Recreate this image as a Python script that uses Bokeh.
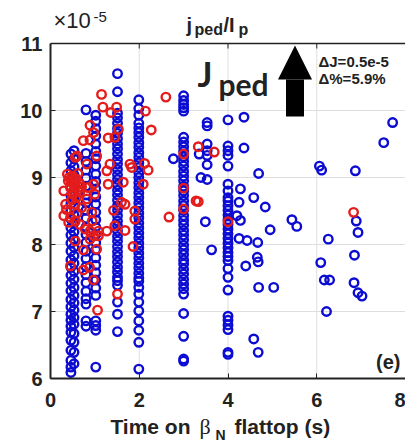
from bokeh.plotting import figure
from bokeh.layouts import column
from bokeh.models import Label, Arrow, NormalHead, FixedTicker, Span, Range1d
from bokeh.embed import file_html
from bokeh.resources import INLINE

# j_ped / I_p in units of 1e-5, against time on the beta_N flattop (s)
# Blue shots, grouped in columns of (nearly) equal flattop time
blue_t046 = 0.46
blue_j046 = [9.35, 9.22, 9.1, 8.97, 8.86, 8.73, 8.61, 8.5, 8.38, 8.25, 8.14, 8.02, 7.9, 7.77,
             7.66, 7.54, 7.42, 7.31, 7.18, 7.07, 6.96, 6.87, 6.78, 6.69, 6.57, 6.42, 6.27, 6.17, 6.09]
blue_t053 = 0.53
blue_j053 = [9.4, 9.28, 9.16, 9.04, 8.92, 8.8, 8.67, 8.56, 8.44, 8.32, 8.19, 8.08, 7.96, 7.83,
             7.72, 7.6, 7.48, 7.36, 7.24, 7.13, 7.02, 6.91, 6.81, 6.67, 6.54, 6.39, 6.22]
blue_t080 = 0.80
blue_j080 = [10.01, 9.36, 9.24, 9.11, 8.99, 8.87, 8.74, 8.62, 8.51, 8.39, 8.26, 8.15, 8.03, 7.9,
             7.79, 7.67, 7.55, 7.43, 7.3, 7.19, 7.11, 6.86, 6.78]
blue_t102 = 1.02
blue_j102 = [9.93, 9.84, 9.73, 9.62, 9.5, 9.39, 9.28, 9.17, 9.05, 8.94, 8.83, 8.71, 8.6, 8.48,
             8.37, 8.26, 8.15, 8.03, 7.92, 7.8, 7.69, 7.58, 7.47, 7.35, 7.24, 6.86, 6.79, 6.72, 6.17]
blue_t151 = 1.51
blue_j151 = [10.55, 10.28, 9.96, 9.89, 9.81, 9.73, 9.66, 9.58, 9.5, 9.43, 9.35, 9.27, 9.2, 9.12,
             9.04, 8.97, 8.89, 8.81, 8.74, 8.66, 8.58, 8.51, 8.43, 8.35, 8.28, 8.2, 8.12, 8.05,
             7.97, 7.89, 7.82, 7.74, 7.66, 7.59, 7.51, 7.46, 7.39, 7.14, 6.96, 6.7]
blue_t199 = 1.99
blue_j199 = [10.16, 10.03, 9.93, 9.81, 9.74, 9.67, 9.6, 9.52, 9.45, 9.37, 9.3, 9.22, 9.15, 9.07,
             9.0, 8.92, 8.85, 8.77, 8.7, 8.62, 8.55, 8.47, 8.4, 8.32, 8.25, 8.17, 8.1, 8.02, 7.95,
             7.87, 7.8, 7.72, 7.65, 7.57, 7.5, 7.45, 7.36, 7.26, 7.14, 7.01, 6.86, 6.72, 6.54, 6.14]
blue_t300 = 3.0
blue_j300 = [10.22, 10.15, 10.09, 10.04, 9.99, 9.6, 9.53, 9.46, 9.39, 9.31, 9.24, 9.17, 9.09,
             9.02, 8.95, 8.87, 8.8, 8.73, 8.65, 8.58, 8.51, 8.43, 8.36, 8.29, 8.21, 8.14, 8.07,
             7.99, 7.92, 7.85, 7.77, 7.71, 7.63, 7.56, 7.48, 7.41, 7.34, 7.26, 6.97, 6.63, 6.29, 6.26]
blue_t353 = 3.53
blue_j353 = [9.82, 9.77, 9.5, 9.4, 9.33, 9.19, 8.97]
blue_t400 = 4.0
blue_j400 = [9.86, 9.47, 9.4, 9.33, 9.17, 8.9, 8.8, 8.7, 8.65, 8.58, 8.51, 8.44, 8.37, 8.3, 8.23,
             8.16, 8.09, 8.02, 7.95, 7.88, 7.82, 7.76, 7.64, 7.51, 7.32, 6.93, 6.87, 6.8, 6.73,
             6.39, 6.36]

# Blue shots scattered between the columns
blue_misc_t = [2.77, 3.35, 3.39, 3.49, 3.63, 4.36, 4.36, 4.69, 4.28, 4.58, 4.25, 4.84, 4.2, 4.28,
               4.95, 4.25, 4.43, 4.67, 4.66, 4.68, 4.4, 4.69, 5.03, 4.58, 4.68, 5.44, 5.55, 6.06,
               6.11, 6.87, 6.89, 6.93, 6.26, 6.09, 6.85, 6.17, 6.29, 6.84, 6.93, 7.02, 6.22, 7.71,
               7.51]
blue_misc_j = [9.28, 9.35, 9.0, 8.34, 7.92, 9.9, 9.44, 9.06, 8.83, 8.7, 8.63, 8.56, 8.43, 8.36,
               8.22, 8.09, 8.06, 8.03, 7.81, 7.74, 7.68, 7.36, 7.36, 6.59, 6.39, 8.37, 8.27, 9.17,
               9.11, 9.1, 8.35, 8.18, 8.08, 7.73, 7.84, 7.47, 7.47, 7.43, 7.28, 7.23, 7.0, 9.82,
               9.52]

# Red shots
red_t = [1.15, 1.18, 1.49, 1.36, 2.14, 2.27, 2.6, 0.89, 0.97, 1.30, 1.45, 0.74, 0.89, 0.6, 1.04, 1.53,
         3.33, 3.69, 3.0, 3.0, 3.0, 3.28, 3.33, 2.67, 4.0, 6.83,
         0.56, 0.82, 1.34, 1.27, 1.79, 1.83, 2.12, 2.2,
         0.42, 0.5, 0.58, 0.47, 0.55, 0.45, 0.52, 0.62, 0.5, 0.58, 0.65, 0.4,
         0.3, 0.97, 1.3, 1.64, 2.09,
         0.34, 0.82, 0.56, 1.6, 1.68, 1.42, 0.93, 0.3, 0.45, 0.56, 0.41, 1.9, 1.9,
         0.78, 0.89, 1.08, 1.27, 1.45, 1.68, 0.97, 0.89, 1.08, 0.56, 0.74, 1.04, 1.86,
         0.45, 0.74, 0.88, 0.97, 1.51, 1.06,
         0.38, 0.62, 0.7, 0.48, 0.66, 0.36, 0.7, 0.6, 1.0, 0.85, 0.66, 0.94]
red_j = [10.24, 10.05, 10.05, 9.97, 9.99, 9.71, 10.2, 9.78, 9.67, 9.59, 9.6, 9.55, 9.56, 9.32, 9.32, 9.72,
         9.46, 9.38, 9.35, 8.84, 8.53, 8.65, 8.64, 8.41, 8.34, 8.48,
         9.3, 9.2, 9.2, 9.1, 9.2, 9.15, 9.21, 9.11,
         9.0, 9.02, 8.98, 8.93, 8.9, 8.85, 8.8, 8.82, 8.75, 8.7, 8.92, 8.95,
         8.8, 8.9, 8.9, 8.93, 8.9,
         8.6, 8.68, 8.6, 8.63, 8.6, 8.51, 8.48, 8.43, 8.4, 8.35, 8.33, 8.5, 8.38,
         8.23, 8.2, 8.2, 8.2, 8.28, 8.21, 8.13, 8.08, 8.13, 8.05, 7.92, 7.93, 7.97,
         7.68, 7.62, 7.66, 7.47, 7.26, 7.02,
         9.05, 9.06, 8.86, 8.67, 8.78, 8.52, 8.55, 8.47, 8.75, 8.85, 8.3, 8.35]

x_ticks = [0, 2, 4, 6, 8]
y_ticks = [6, 7, 8, 9, 10, 11]

BLUE = "#0c0cd2"
RED = "#e41c1c"
INK = "#222222"
FONT = "Liberation Sans"

W, H = 405, 443
FOOT_H = 28                      # strip below the axes holding the x title
LEFT = 50                        # left border of the axes frame
Y6_PX, Y11_PX = 378, 43          # page rows of y=6 and y=11
PX_PER_Y = (Y6_PX - Y11_PX) / 5.0
X_END = 8.0
Y_TOP = 11 + Y11_PX / PX_PER_Y   # frame reaches the top of the page
MAIN_H = H - FOOT_H
BOTTOM = MAIN_H - Y6_PX
BASE_SHIFT = 0.37                # label anchor sits this many ems below the visual baseline

# ---------- main axes ----------
p = figure(width=W, height=MAIN_H, x_range=Range1d(0, X_END), y_range=Range1d(6, Y_TOP),
           output_backend="svg", toolbar_location=None,
           min_border_left=LEFT, min_border_right=0, min_border_top=0,
           min_border_bottom=BOTTOM, outline_line_color=None)


def cx(px):
    """page x pixel -> data x of the main axes"""
    return (px - LEFT) * X_END / (W - LEFT)


def cy(py):
    """page y pixel -> data y of the main axes"""
    return 6 + (Y6_PX - py) / PX_PER_Y


# grid: horizontal lines from the grid model, vertical ones stop at the box top
p.xgrid.visible = False
p.ygrid.ticker = FixedTicker(ticks=y_ticks)
p.ygrid.grid_line_color = "#dedede"
p.ygrid.grid_line_width = 1
inner_x = x_ticks[1:-1]
p.segment(x0=inner_x, y0=[6] * len(inner_x), x1=inner_x, y1=[11] * len(inner_x),
          line_color="#dedede", line_width=1)

for ax in (p.xaxis, p.yaxis):
    ax.axis_line_color = INK
    ax.axis_line_width = 2
    ax.major_tick_in = 5
    ax.major_tick_out = 0
    ax.major_tick_line_color = INK
    ax.major_tick_line_width = 1
    ax.minor_tick_line_color = None
    ax.major_label_text_font = FONT
    ax.major_label_text_font_style = "bold"
    ax.major_label_text_font_size = "20px"
    ax.major_label_text_color = INK
p.xaxis.ticker = FixedTicker(ticks=x_ticks)
p.yaxis.ticker = FixedTicker(ticks=y_ticks)
p.yaxis.bounds = (6, 11)
p.xaxis.major_label_standoff = 14
p.yaxis.major_label_standoff = 8

# top border of the box with inward ticks
p.add_layout(Span(location=11, dimension="width", line_color=INK, line_width=1.5))
p.segment(x0=inner_x, y0=[11] * len(inner_x), x1=inner_x, y1=[11 - 5 / PX_PER_Y] * len(inner_x),
          line_color=INK, line_width=1)

# markers
blue_cols = [(blue_t046, blue_j046), (blue_t053, blue_j053), (blue_t080, blue_j080),
             (blue_t102, blue_j102), (blue_t151, blue_j151), (blue_t199, blue_j199),
             (blue_t300, blue_j300), (blue_t353, blue_j353), (blue_t400, blue_j400)]
bx, by = [], []
for t, js in blue_cols:
    bx += [t] * len(js)
    by += js
bx += blue_misc_t
by += blue_misc_j

p.scatter(bx, by, marker="circle", size=8.5, fill_color=None, line_color=BLUE, line_width=2.4)
p.scatter(red_t, red_j, marker="circle", size=8.5, fill_color=None, line_color=RED, line_width=2.4)


def lab(fig, to_x, to_y, text, px, py, size, align="left", font=FONT, style="bold", color=INK):
    """Text starting at page column px whose baseline sits on page row py."""
    fig.add_layout(Label(x=to_x(px), y=to_y(py - BASE_SHIFT * size), text=text,
                         text_align=align, text_baseline="alphabetic", text_font=font,
                         text_font_style=style, text_font_size=f"{size}px", text_color=color))


# exponent and title above the box
lab(p, cx, cy, "\u00d710", 53, 28, 22, style="normal")
lab(p, cx, cy, "-5", 93, 22, 15, style="normal")
lab(p, cx, cy, "j", 186, 32, 20)
lab(p, cx, cy, "ped", 194, 35, 16)
lab(p, cx, cy, "/I", 223, 32, 20)
lab(p, cx, cy, "p", 238, 35, 16)

# J_ped with arrow and the change it marks
lab(p, cx, cy, "J", 197, 85, 35, font="Lato")
lab(p, cx, cy, "ped", 218, 95, 30, font="Lato")
p.add_layout(Arrow(end=NormalHead(size=34, fill_color="black", line_color="black", line_width=0),
                   x_start=cx(294.5), y_start=cy(116), x_end=cx(294.5), y_end=cy(45),
                   line_color="black", line_width=18))
lab(p, cx, cy, "\u0394J=0.5e-5", 318, 67, 15)
lab(p, cx, cy, "\u0394%=5.9%", 318, 84, 15)
lab(p, cx, cy, "(e)", 400, 369, 20, align="right")

# ---------- footer: x axis title ----------
foot = figure(width=W, height=FOOT_H, x_range=Range1d(LEFT, W), y_range=Range1d(0, FOOT_H),
              output_backend="svg", toolbar_location=None, min_border=0,
              min_border_left=LEFT, min_border_right=0,
              x_axis_location=None, y_axis_location=None, outline_line_color=None)
foot.grid.visible = False
fx = lambda px: px
fy = lambda py: H - py
lab(foot, fx, fy, "Time on", 190, 434, 21, align="right")
lab(foot, fx, fy, "\u03b2", 199, 434, 22, font="Liberation Serif", style="normal")
lab(foot, fx, fy, "N", 215, 440, 14)
lab(foot, fx, fy, "flattop (s)", 234, 434, 21)

layout = column(p, foot, spacing=0)
open("out.html", "w").write(file_html(layout, INLINE))
